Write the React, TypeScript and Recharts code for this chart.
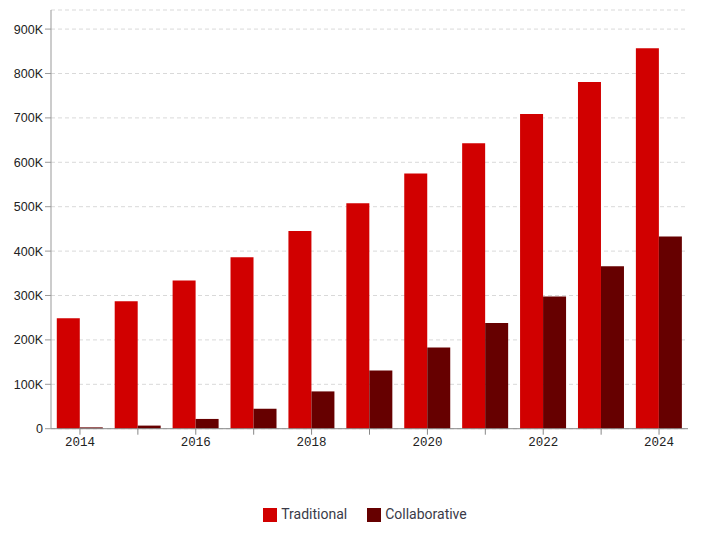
import React from "react";
import { BarChart, Bar, XAxis, YAxis, CartesianGrid, Legend } from "recharts";

const years = ["2014", "2015", "2016", "2017", "2018", "2019", "2020", "2021", "2022", "2023", "2024"];
const traditional = [249000, 287000, 334000, 386000, 445000, 508000, 575000, 643000, 709000, 781000, 857000];
const collaborative = [3000, 7000, 22000, 45000, 84000, 131000, 183000, 238000, 298000, 366000, 433000];
const yTicks = [0, 100000, 200000, 300000, 400000, 500000, 600000, 700000, 800000, 900000];
const seriesOrder = ["Traditional", "Collaborative"];

const data = years.map((y, i) => ({ year: y, Traditional: traditional[i], Collaborative: collaborative[i] }));

const fmtY = (v: number) => (v === 0 ? "0" : `${v / 1000}K`);

export default function App() {
  return (
    <div style={{ position: "absolute", left: 0, top: 0 }}>
      <BarChart
        width={725}
        height={534}
        data={data}
        margin={{ top: 10, right: 37, bottom: 12, left: 0 }}
        barCategoryGap="10%"
        barGap={0}
      >
        <CartesianGrid horizontal vertical={false} stroke="#d9d9d9" strokeDasharray="4 3" />
        <XAxis
          dataKey="year"
          interval={0}
          tickFormatter={(v: string, i: number) => (i % 2 === 0 ? v : "")}
          tick={{ fill: "#222", fontSize: 12.5, fontFamily: "Liberation Mono, monospace" }}
          stroke="#888"
          tickSize={6}
          height={40}
        />
        <YAxis
          width={51}
          domain={[0, 943000]}
          ticks={yTicks}
          tickFormatter={fmtY}
          tick={{ fill: "#222", fontSize: 12.5, fontFamily: "Liberation Sans, Arial, sans-serif" }}
          stroke="#999"
          tickSize={6}
        />
        <Legend
          verticalAlign="bottom"
          iconType="square"
          iconSize={14}
          itemSorter={(item: any) => seriesOrder.indexOf(item.value)}
          wrapperStyle={{ fontFamily: "Roboto, sans-serif", fontSize: 14, paddingTop: 37, paddingLeft: 31 }}
          formatter={(v: string) => <span style={{ color: "#3a3a48", marginRight: 10 }}>{v}</span>}
        />
        <Bar dataKey="Traditional" fill="#d10000" isAnimationActive={false} />
        <Bar dataKey="Collaborative" fill="#660000" isAnimationActive={false} />
      </BarChart>
    </div>
  );
}
